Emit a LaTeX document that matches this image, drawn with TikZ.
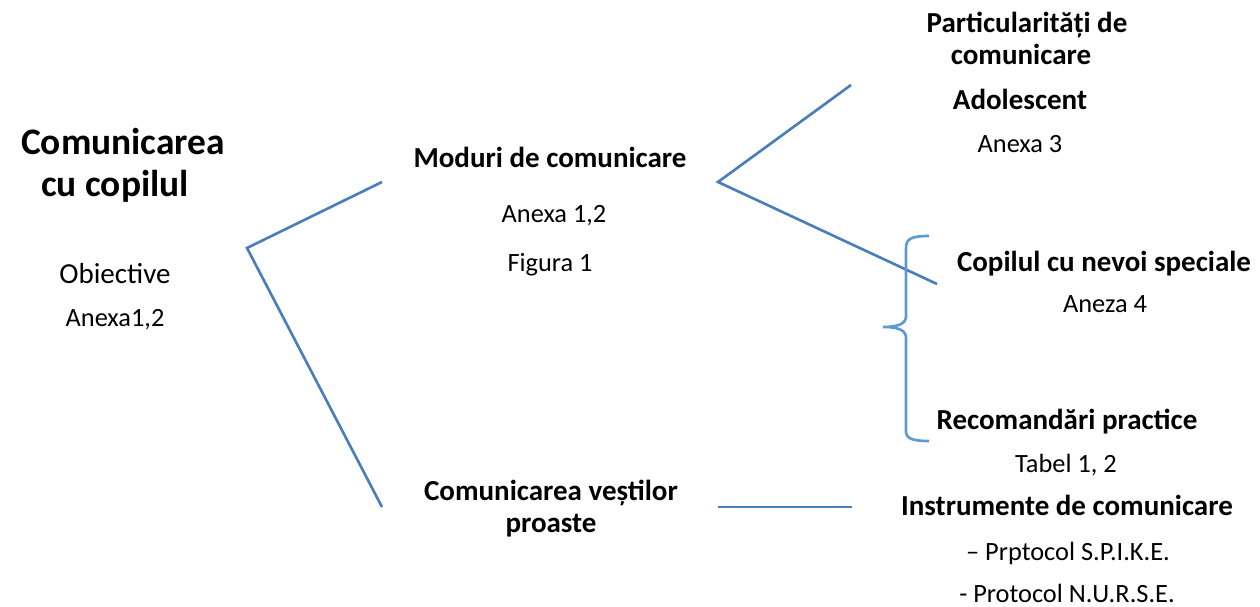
\documentclass[tikz,border=0pt]{standalone}
\usepackage{fontspec}
\setmainfont{Carlito}
\usetikzlibrary{positioning}
\definecolor{linkblue}{RGB}{74,126,187}
\definecolor{braceblue}{RGB}{91,155,213}

\begin{document}
\begin{tikzpicture}[x=0.02cm, y=-0.02cm,
			title/.style={font=\fontsize{21.3}{25}\selectfont\bfseries, align=center, inner sep=0pt, anchor=base},
			head/.style={font=\fontsize{16.5}{19.5}\selectfont\bfseries, align=center, inner sep=0pt, anchor=base},
			note/.style={font=\fontsize{15}{18}\selectfont, inner sep=0pt, anchor=base},
			bignote/.style={font=\fontsize{16.5}{19.5}\selectfont, inner sep=0pt, anchor=base},
			link/.style={draw=linkblue, line width=1.5pt}]
			\useasboundingbox (0,0) rectangle (1260,607);
			% left column
			\node[title] at (123,155) (root){Comunicarea};
			\node[title] at (115,197) (rootb){cu copilul};
			\node[bignote] at (115,284) (obj){Obiective};
			\node[note] at (115,327) (objanexa){Anexa1,2};
			% middle column
			\node[head] at (550,168) (moduri){Moduri de comunicare};
			\node[note] at (554,223) (modanexa){Anexa 1,2};
			\node[note] at (550,272) (modfig){Figura 1};
			\node[head] at (551,500) (vesti){Comunicarea veștilor};
			\node[head] at (551,532) (vestib){proaste};
			% right column
			\node[head] at (1027,33) (partic){Particularități de};
			\node[head] at (1021,65) (particb){comunicare};
			\node[head] at (1020,110) (adol){Adolescent};
			\node[note] at (1020,153) (adolanexa){Anexa 3};
			\node[head] at (1104,272) (nevoi){Copilul cu nevoi speciale};
			\node[note] at (1105,313) (nevoianexa){Aneza 4};
			\node[head] at (1067,430) (recom){Recomandări practice};
			\node[note] at (1066,472) (tabel){Tabel 1, 2};
			\node[head] at (1067,515) (instr){Instrumente de comunicare};
			\node[note] at (1068,560) (spike){– Prptocol S.P.I.K.E.};
			\node[note] at (1067,602) (nurse){- Protocol N.U.R.S.E.};
			% connectors
			\coordinate (rootfork) at (247,248);
			\coordinate (modin) at (382,182);
			\coordinate (vestiin) at (382,507);
			\coordinate (modfork) at (718,182);
			\coordinate (particin) at (851,85);
			\coordinate (nevoiin) at (937,284);
			\coordinate (vestiout) at (718,507);
			\coordinate (instrin) at (852,507);
			\path[link] (modin) -- (rootfork) -- (vestiin);
			\path[link] (particin) -- (modfork) -- (nevoiin);
			\path[link] (vestiout) -- (instrin);
			% brace
			\draw[braceblue, line width=1.5pt] (929,236) .. controls (911,236) and (906,239) .. (906,248)
				-- (906,316) .. controls (906,323) and (900,327) .. (883,327)
				.. controls (900,327) and (906,331) .. (906,338)
				-- (906,431) .. controls (906,438) and (911,441) .. (929,441);
\end{tikzpicture}
\end{document}
